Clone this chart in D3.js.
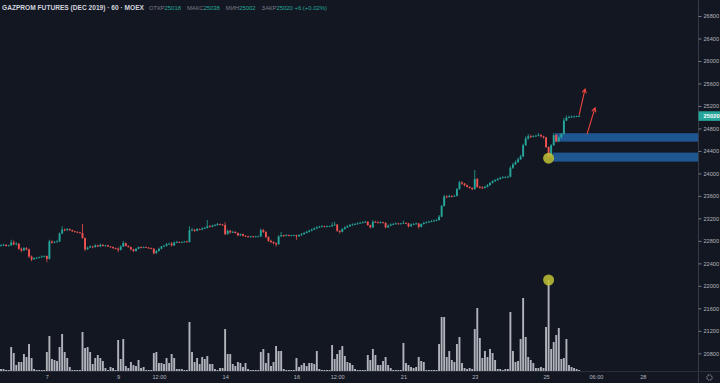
<!DOCTYPE html>
<html>
<head>
<meta charset="utf-8">
<script src="https://cdn.jsdelivr.net/npm/d3@7"></script>
<style>
  html, body { margin: 0; padding: 0; background: #131722; overflow: hidden; }
  svg { display: block; font-family: "Liberation Sans", Arial, sans-serif; }
</style>
</head>
<body>
<svg id="chart" width="720" height="383"></svg>
<script>
// hourly bars, GAZPROM futures (one row = one trading day)
const firstOpen = 22710;
const closes = [
  22720, 22730, 22710, 22720,
  22770, 22740, 22750, 22660, 22630, 22670, 22650, 22520, 22470, 22490, 22500, 22510, 22520, 22530,
  22480, 22790, 22770, 22780, 22790, 22930, 23000, 22990, 23010, 22990, 22970, 22960, 22950, 22940,
  22850, 22650, 22680, 22700, 22690, 22720, 22700, 22730, 22710, 22720, 22700, 22690, 22670, 22660,
  22640, 22700, 22760, 22710, 22690, 22650, 22620, 22660, 22690, 22680, 22690, 22680, 22670, 22660,
  22580, 22620, 22660, 22700, 22710, 22740, 22750, 22720, 22770, 22780, 22770, 22780, 22790, 22780,
  22990, 23000, 22980, 23010, 23000, 23020, 23030, 23060, 23050, 23070, 23080, 23100, 23090, 23080,
  22920, 22980, 22950, 22960, 22940, 22900, 22920, 22890, 22880, 22870, 22880, 22870, 22880, 22880,
  22990, 22960, 22870, 22800, 22780, 22760, 22740, 22880, 22900, 22890, 22900, 22890, 22900, 22900,
  22880, 22900, 22920, 22940, 22960, 22980, 23000, 23020, 23040, 23050, 23060, 23050, 23060, 23060,
  23080, 23090, 22980, 22960, 23010, 23040, 23060, 23080, 23090, 23100, 23110, 23120, 23130, 23140,
  23080, 23040, 23140, 23130, 23120, 23130, 23120, 23040, 23070, 23090, 23100, 23110, 23100, 23110,
  23120, 23110, 23060, 23090, 23100, 23110, 23050, 23100, 23120, 23130, 23140, 23150, 23160, 23170,
  23230, 23420, 23590, 23580, 23600, 23590, 23600, 23720, 23840, 23820, 23790, 23760, 23740, 23720,
  23900, 23760, 23750, 23740, 23760, 23790, 23830, 23860, 23880, 23900, 23920, 23930, 23930, 23940,
  24100, 24160, 24200, 24250, 24300, 24500, 24620, 24660, 24650, 24660, 24670, 24680, 24660, 24640,
  24470, 24300, 24500, 24680, 24570, 24640, 24700, 24940, 24990, 25000, 25010, 25010, 25018, 25020
];
const highs = [
  22740, 22750, 22740, 22730,
  22820, 22810, 22780, 22760, 22680, 22690, 22690, 22660, 22540, 22510, 22510, 22520, 22540, 22540,
  22540, 22820, 22810, 22800, 22810, 22950, 23060, 23020, 23030, 23020, 23000, 22980, 22970, 22960,
  23100, 22860, 22700, 22720, 22710, 22740, 22730, 22750, 22740, 22730, 22730, 22710, 22700, 22680,
  22680, 22720, 22800, 22770, 22720, 22700, 22660, 22670, 22700, 22700, 22700, 22700, 22690, 22680,
  22670, 22640, 22680, 22710, 22730, 22760, 22770, 22780, 22790, 22800, 22790, 22790, 22800, 22800,
  23060, 23030, 23010, 23030, 23020, 23040, 23050, 23170, 23080, 23090, 23100, 23120, 23110, 23100,
  23130, 23000, 22990, 22980, 22970, 22950, 22930, 22930, 22900, 22890, 22890, 22890, 22890, 22890,
  23020, 23010, 22970, 22880, 22820, 22790, 22770, 22900, 22960, 22910, 22920, 22910, 22910, 22910,
  22910, 22920, 22940, 22960, 22980, 23000, 23020, 23040, 23060, 23070, 23080, 23070, 23070, 23070,
  23130, 23140, 23100, 22990, 23030, 23060, 23080, 23100, 23110, 23120, 23130, 23140, 23150, 23160,
  23150, 23090, 23170, 23160, 23150, 23150, 23140, 23130, 23090, 23110, 23120, 23130, 23120, 23120,
  23160, 23130, 23120, 23110, 23120, 23130, 23120, 23110, 23140, 23150, 23160, 23170, 23180, 23190,
  23260, 23440, 23620, 23610, 23620, 23610, 23620, 23740, 23870, 23860, 23830, 23800, 23770, 23750,
  24060, 23920, 23780, 23770, 23780, 23810, 23850, 23880, 23900, 23920, 23940, 23950, 23950, 23960,
  24130, 24190, 24230, 24280, 24330, 24530, 24660, 24700, 24690, 24680, 24690, 24720, 24700, 24670,
  24650, 24480, 24520, 24720, 24700, 24660, 24720, 24990, 25030, 25030, 25030, 25030, 25030, 25038
];
const lows = [
  22700, 22710, 22700, 22700,
  22710, 22720, 22720, 22640, 22600, 22620, 22630, 22500, 22440, 22460, 22480, 22490, 22500, 22510,
  22420, 22470, 22750, 22760, 22770, 22780, 22920, 22970, 22980, 22980, 22960, 22950, 22940, 22930,
  22840, 22620, 22640, 22670, 22670, 22680, 22690, 22690, 22700, 22700, 22690, 22680, 22660, 22650,
  22600, 22630, 22690, 22700, 22680, 22630, 22600, 22610, 22650, 22670, 22670, 22670, 22660, 22650,
  22560, 22570, 22610, 22650, 22690, 22700, 22730, 22700, 22710, 22760, 22760, 22760, 22770, 22770,
  22770, 22970, 22960, 22970, 22990, 22990, 23010, 23020, 23040, 23040, 23060, 23070, 23080, 23070,
  22900, 22910, 22930, 22940, 22930, 22880, 22890, 22880, 22870, 22860, 22860, 22860, 22860, 22870,
  22870, 22940, 22850, 22780, 22760, 22740, 22700, 22730, 22870, 22870, 22880, 22880, 22880, 22890,
  22820, 22870, 22890, 22910, 22930, 22950, 22970, 22990, 23010, 23030, 23040, 23040, 23040, 23050,
  23050, 23070, 22960, 22930, 22950, 23000, 23030, 23050, 23070, 23080, 23090, 23100, 23110, 23120,
  23070, 23020, 23030, 23120, 23110, 23110, 23110, 23020, 23030, 23060, 23080, 23090, 23090, 23090,
  23100, 23100, 23040, 23050, 23080, 23090, 23020, 23040, 23090, 23110, 23120, 23130, 23140, 23150,
  23160, 23220, 23410, 23560, 23570, 23570, 23580, 23590, 23710, 23800, 23770, 23750, 23730, 23700,
  23710, 23740, 23730, 23720, 23730, 23750, 23780, 23820, 23850, 23870, 23890, 23910, 23920, 23920,
  23930, 24080, 24150, 24190, 24240, 24290, 24490, 24600, 24630, 24640, 24650, 24660, 24640, 24620,
  24450, 24270, 24290, 24490, 24550, 24560, 24620, 24690, 24930, 24980, 24990, 25000, 25000, 25002
];
// volume, thousand contracts
const volumes = [
  2, 2, 1, 1,
  24, 18, 6, 9, 9, 17, 14, 27, 13, 2, 1, 1, 1, 1,
  19, 35, 12, 11, 10, 24, 37, 19, 13, 4, 1, 1, 1, 1,
  39, 23, 24, 19, 7, 13, 16, 13, 10, 3, 1, 4, 3, 1,
  31, 12, 32, 5, 3, 9, 6, 5, 11, 3, 4, 1, 1, 1,
  18, 19, 8, 8, 7, 13, 8, 17, 13, 2, 2, 2, 1, 1,
  49, 19, 9, 13, 7, 14, 12, 15, 7, 7, 2, 1, 3, 3,
  42, 17, 17, 7, 5, 9, 8, 4, 8, 2, 1, 1, 1, 1,
  19, 22, 8, 18, 5, 9, 25, 20, 20, 2, 1, 1, 1, 1,
  13, 4, 6, 8, 5, 8, 8, 7, 20, 2, 1, 1, 1, 1,
  26, 12, 17, 21, 25, 15, 9, 8, 6, 2, 1, 1, 1, 1,
  16, 11, 22, 16, 6, 6, 10, 14, 6, 3, 1, 1, 1, 1,
  28, 8, 6, 4, 3, 4, 14, 10, 9, 1, 1, 1, 1, 1,
  27, 54, 54, 14, 20, 11, 9, 27, 34, 8, 3, 2, 3, 2,
  42, 63, 33, 13, 20, 14, 22, 18, 11, 2, 2, 1, 2, 2,
  59, 20, 9, 10, 32, 73, 34, 14, 11, 8, 3, 3, 4, 3,
  44, 91, 22, 29, 36, 43, 12, 13, 32, 6, 4, 3, 2, 1
];

const priceTicks = [20800, 21200, 21600, 22000, 22400, 22800, 23200, 23600, 24000, 24400, 24800, 25200, 25600, 26000, 26400, 26800];
const timeTickIdx = [18, 46, 62, 88, 116, 132, 158, 186, 214, 233.6, 252];
const timeTickLabels = ['7', '9', '12:00', '14', '16', '12:00', '21', '23', '25', '06:00', '28'];

// drawn annotations
const markIdx = 215;
const zoneFrom = [217.5, 216.6];
const zoneTop = [24715, 24370];
const zoneBottom = [24565, 24210];
const arrowFromIdx = [227, 230.1];
const arrowFromPrice = [25040, 24700];
const arrowToIdx = [229.3, 233.2];
const arrowToPrice = [25500, 25165];

const title = 'GAZPROM FUTURES (DEC 2019) · 60 · MOEX';
const ohlcNames = ['ОТКР', 'МАКС', 'МИН', 'ЗАКР'];
const ohlcValues = ['25018', '25038', '25002', '25020 +6 (+0.02%)'];
const lastPrice = 25020;

const UP = '#26a69a';
const DOWN = '#ef5350';
const TEXT = '#b2b5be';

const width = 720;
const height = 383;
const plotRight = 698;
const plotBottom = 371;
const step = 2.547;

const svg = d3.select('#chart');
svg.append('rect').attr('width', width).attr('height', height).attr('fill', '#131722');

const bars = closes.map((c, i) => ({
  i: i,
  open: i === 0 ? firstOpen : closes[i - 1],
  close: c,
  high: highs[i],
  low: lows[i],
  vol: volumes[i]
}));

const x = d3.scaleLinear().domain([0, bars.length - 1]).range([1, 1 + (bars.length - 1) * step]);
const y = d3.scaleLinear().domain([20800, 26800]).range([353.3, 16]);
const yv = d3.scaleLinear().domain([0, d3.max(volumes)]).range([plotBottom, 280]);

const plot = svg.append('g');

// volume
plot.append('g')
  .selectAll('rect')
  .data(bars)
  .enter()
  .append('rect')
  .attr('x', d => x(d.i) - 0.95)
  .attr('width', 1.9)
  .attr('y', d => yv(d.vol))
  .attr('height', d => plotBottom - yv(d.vol))
  .attr('fill', '#b0b3ba');

// zones
plot.append('g')
  .selectAll('rect')
  .data(zoneFrom)
  .enter()
  .append('rect')
  .attr('x', d => x(d))
  .attr('width', d => plotRight - x(d))
  .attr('y', (d, k) => y(zoneTop[k]))
  .attr('height', (d, k) => y(zoneBottom[k]) - y(zoneTop[k]))
  .attr('fill', '#1e5691');

// candles
const candle = plot.append('g')
  .selectAll('g')
  .data(bars)
  .enter()
  .append('g')
  .attr('fill', d => d.close >= d.open ? UP : DOWN)
  .attr('stroke', d => d.close >= d.open ? UP : DOWN);

candle.append('line')
  .attr('x1', d => x(d.i))
  .attr('x2', d => x(d.i))
  .attr('y1', d => y(d.high))
  .attr('y2', d => y(d.low))
  .attr('stroke-width', 0.8);

candle.append('rect')
  .attr('x', d => x(d.i) - 0.95)
  .attr('width', 1.9)
  .attr('y', d => y(Math.max(d.open, d.close)))
  .attr('height', d => Math.max(0.8, Math.abs(y(d.open) - y(d.close))))
  .attr('stroke', 'none');

// markers
const mark = bars[markIdx];
plot.append('circle')
  .attr('cx', x(mark.i)).attr('cy', y(mark.low)).attr('r', 5.5)
  .attr('fill', '#c2c234').attr('fill-opacity', 0.85);
plot.append('circle')
  .attr('cx', x(mark.i)).attr('cy', yv(mark.vol)).attr('r', 5.5)
  .attr('fill', '#c2c234').attr('fill-opacity', 0.85);

// arrows
arrowFromIdx.forEach((a, k) => {
  const x1 = x(a), y1 = y(arrowFromPrice[k]);
  const x2 = x(arrowToIdx[k]), y2 = y(arrowToPrice[k]);
  const ang = Math.atan2(y2 - y1, x2 - x1);
  const head = 4.5;
  const g = plot.append('g').attr('stroke', '#f0463f').attr('stroke-width', 1.1).attr('fill', 'none');
  g.append('line').attr('x1', x1).attr('y1', y1).attr('x2', x2).attr('y2', y2);
  g.append('path').attr('d', d3.line()([
    [x2 - head * Math.cos(ang - 0.5), y2 - head * Math.sin(ang - 0.5)],
    [x2, y2],
    [x2 - head * Math.cos(ang + 0.5), y2 - head * Math.sin(ang + 0.5)]
  ]));
});

// price axis
svg.append('line')
  .attr('x1', plotRight + 0.5).attr('x2', plotRight + 0.5)
  .attr('y1', 0).attr('y2', height)
  .attr('stroke', '#363a45');
svg.append('line')
  .attr('x1', 0).attr('x2', width)
  .attr('y1', plotBottom + 0.5).attr('y2', plotBottom + 0.5)
  .attr('stroke', '#2a2e39');

const yAxis = svg.append('g')
  .attr('transform', 'translate(' + (plotRight + 0.5) + ',0)')
  .call(d3.axisRight(y).tickValues(priceTicks).tickSize(3).tickPadding(2).tickFormat(d3.format('d')));
yAxis.select('.domain').remove();
yAxis.selectAll('line').attr('stroke', '#787b86');
yAxis.selectAll('text').attr('fill', TEXT).attr('font-size', 5.6).attr('font-family', '"Liberation Sans", Arial, sans-serif');

// last price label
svg.append('rect')
  .attr('x', plotRight + 0.5).attr('y', y(lastPrice) - 4.8)
  .attr('width', width - plotRight).attr('height', 9.6)
  .attr('fill', UP);
svg.append('text')
  .attr('x', plotRight + 5.5).attr('y', y(lastPrice))
  .attr('dy', '0.35em')
  .attr('font-size', 5.8).attr('font-weight', 'bold')
  .attr('fill', '#ffffff')
  .text(lastPrice);

// time axis
const xAxis = svg.append('g')
  .attr('transform', 'translate(0,' + plotBottom + ')')
  .call(d3.axisBottom(x).tickValues(timeTickIdx).tickSize(0).tickPadding(4)
    .tickFormat((d, k) => timeTickLabels[k]));
xAxis.select('.domain').remove();
xAxis.selectAll('text').attr('fill', TEXT).attr('font-size', 5.6).attr('font-family', '"Liberation Sans", Arial, sans-serif');

// settings gear
svg.append('circle')
  .attr('cx', 709.5).attr('cy', 377.5).attr('r', 2.6)
  .attr('fill', 'none').attr('stroke', '#787b86').attr('stroke-width', 1.4)
  .attr('stroke-dasharray', '1.2 0.8');

// header
svg.append('text')
  .attr('x', 2).attr('y', 9.8)
  .attr('font-size', 6.5).attr('font-weight', 'bold')
  .attr('fill', '#d1d4dc')
  .attr('textLength', 142)
  .attr('lengthAdjust', 'spacingAndGlyphs')
  .text(title);

const legend = svg.append('text').attr('x', 149).attr('y', 9.6).attr('font-size', 5.9);
ohlcNames.forEach((n, k) => {
  legend.append('tspan').attr('dx', k === 0 ? 0 : 6).attr('fill', '#787b86').text(n);
  legend.append('tspan').attr('fill', UP).text(ohlcValues[k]);
});
</script>
</body>
</html>
